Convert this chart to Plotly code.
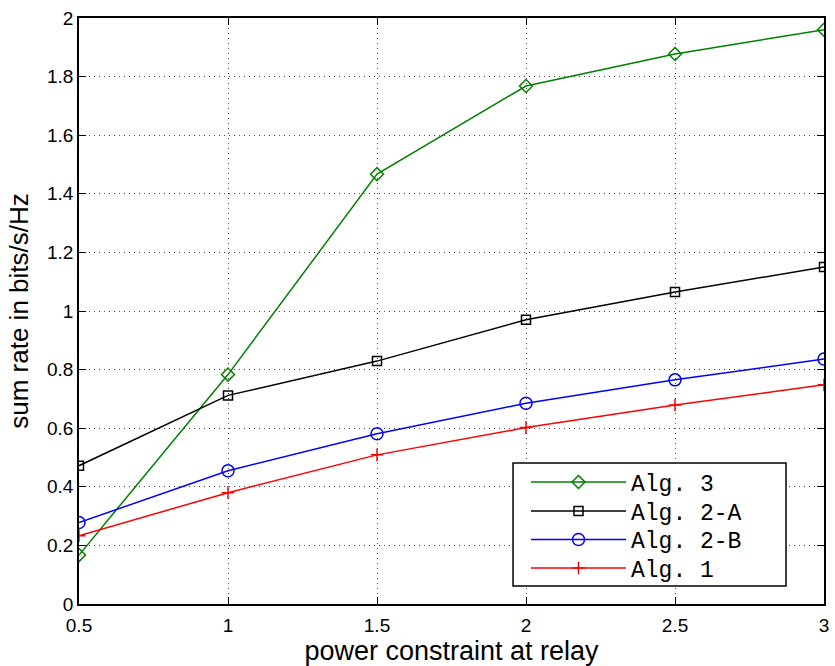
import plotly.graph_objects as go

x_vals = [0.5, 1.0, 1.5, 2.0, 2.5, 3.0]
alg3 = [0.167, 0.783, 1.467, 1.768, 1.877, 1.960]
alg2a = [0.472, 0.712, 0.829, 0.970, 1.065, 1.150]
alg2b = [0.278, 0.455, 0.581, 0.685, 0.765, 0.836]
alg1 = [0.233, 0.380, 0.509, 0.602, 0.679, 0.748]

series = [
    ("Alg. 3", alg3, "#008000", "diamond-open", 10),
    ("Alg. 2-A", alg2a, "#000000", "square-open", 9),
    ("Alg. 2-B", alg2b, "#0000ff", "circle-open", 12),
    ("Alg. 1", alg1, "#ff0000", "cross-thin-open", 9),
]

x_ticks = [0.5, 1, 1.5, 2, 2.5, 3]
x_ticklabels = ["0.5", "1", "1.5", "2", "2.5", "3"]
y_ticks = [0, 0.2, 0.4, 0.6, 0.8, 1.0, 1.2, 1.4, 1.6, 1.8, 2.0]
y_ticklabels = ["0", "0.2", "0.4", "0.6", "0.8", "1", "1.2", "1.4", "1.6", "1.8", "2"]

legend_tops = [0.2449, 0.1954, 0.1468, 0.0981]

fig = go.Figure()
for i, (name, ys, color, sym, size) in enumerate(series):
    fig.add_trace(go.Scatter(
        x=x_vals, y=ys, name=name, mode="lines+markers",
        line=dict(color=color, width=1.5),
        marker=dict(symbol=sym, size=size, color=color, line=dict(color=color, width=1.5)),
        legend="legend" if i == 0 else f"legend{i + 1}",
    ))

axis_common = dict(
    showline=True, linecolor="black", linewidth=1.5, mirror="ticks",
    ticks="inside", ticklen=7, tickcolor="black", tickwidth=1,
    showgrid=True, gridcolor="#444444", griddash="1px,4px", gridwidth=1,
    zeroline=False, automargin=False, ticklabeloverflow="allow",
    tickfont=dict(family="Liberation Sans, Arial", size=19, color="black"),
)

# legend frame (white box under the legend entries)
fig.add_shape(type="rect", xref="paper", yref="paper",
              x0=0.5826, x1=0.949, y0=0.0307, y1=0.2406,
              line=dict(color="black", width=1.5), fillcolor="white", layer="above")

legend_style = dict(
    x=0.600, xanchor="left", yanchor="top",
    bgcolor="rgba(0,0,0,0)", borderwidth=0,
    font=dict(family="Liberation Mono, Courier New", size=23, color="black"),
    itemwidth=95, tracegroupgap=0,
)

fig.update_layout(
    width=835, height=666,
    margin=dict(l=79, r=11, t=18, b=62),
    paper_bgcolor="white", plot_bgcolor="white",
    font=dict(family="Liberation Sans, Arial", color="black"),
    xaxis=dict(range=[0.5, 3], tickvals=x_ticks, ticktext=x_ticklabels,
               title=dict(text="power constraint at relay", font=dict(size=27), standoff=8),
               ticklabelstandoff=3,
               **axis_common),
    yaxis=dict(range=[0, 2], tickvals=y_ticks, ticktext=y_ticklabels,
               title=dict(text="sum rate in bits/s/Hz", font=dict(size=26), standoff=11),
               **axis_common),
    legend=dict(y=legend_tops[0], **legend_style),
    legend2=dict(y=legend_tops[1], **legend_style),
    legend3=dict(y=legend_tops[2], **legend_style),
    legend4=dict(y=legend_tops[3], **legend_style),
    showlegend=True,
)

fig.write_html("out.html", config={"displayModeBar": False},
               post_script="document.body.style.margin='0';")
